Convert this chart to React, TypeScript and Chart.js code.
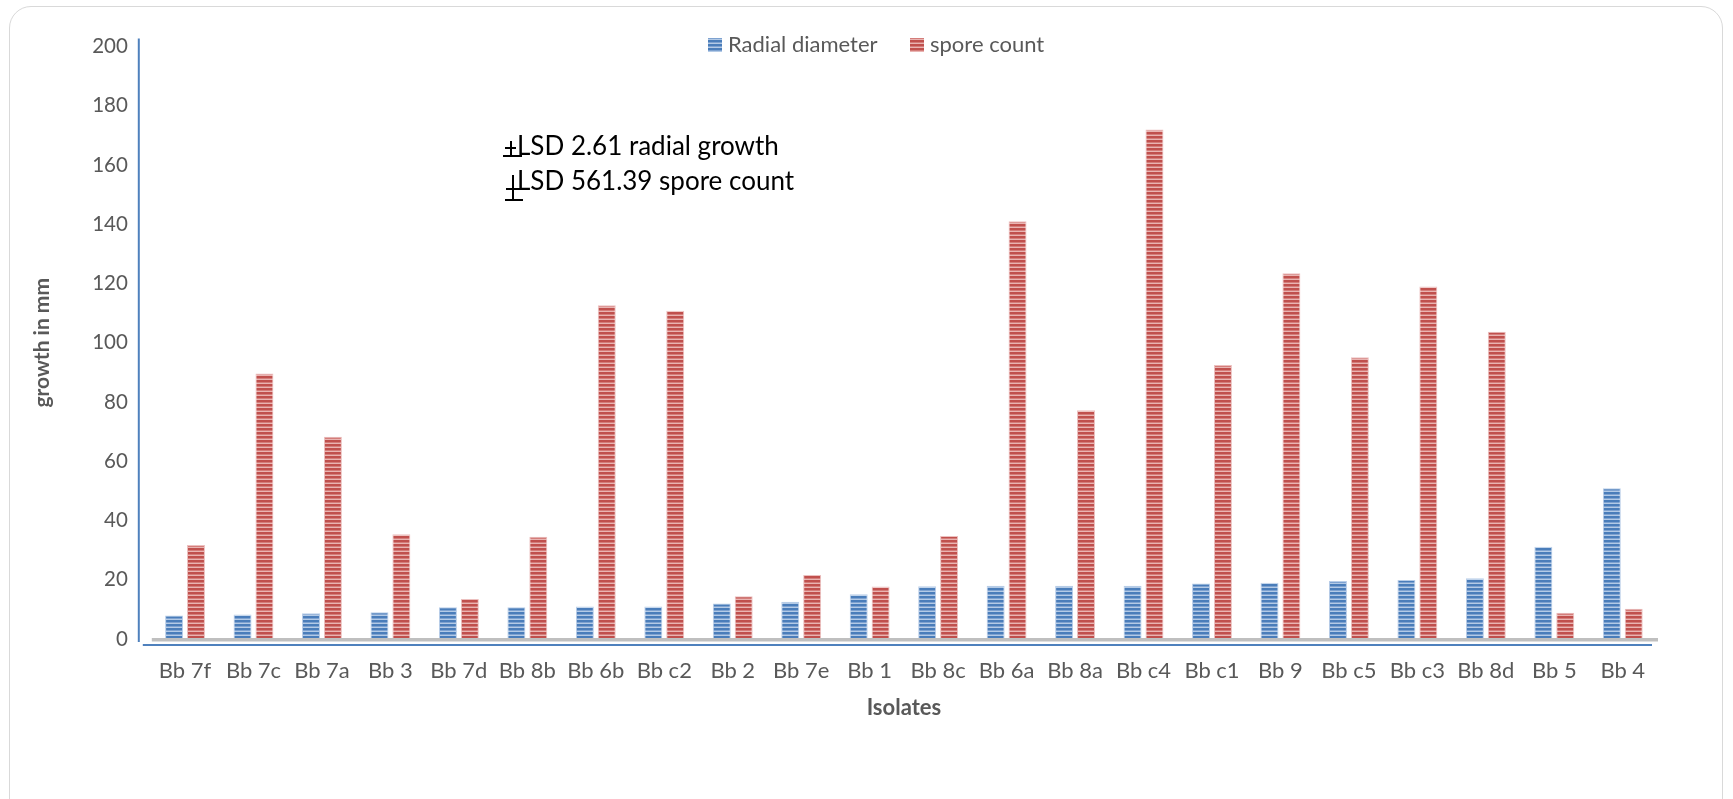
import React, { useEffect, useRef } from "react";
import { Chart, registerables } from "chart.js";
Chart.register(...registerables);

const categories = ["Bb 7f", "Bb 7c", "Bb 7a", "Bb 3", "Bb 7d", "Bb 8b", "Bb 6b", "Bb c2", "Bb 2", "Bb 7e", "Bb 1", "Bb 8c", "Bb 6a", "Bb 8a", "Bb c4", "Bb c1", "Bb 9", "Bb c5", "Bb c3", "Bb 8d", "Bb 5", "Bb 4"];
const radialDiameter = [7.9, 8.3, 8.7, 9.0, 10.7, 10.7, 11.0, 11.0, 12.0, 12.6, 15.1, 17.8, 18.0, 18.0, 18.0, 18.7, 19.0, 19.6, 19.9, 20.5, 31.1, 50.9];
const sporeCount = [31.7, 89.6, 68.3, 35.4, 13.5, 34.5, 112.7, 110.8, 14.4, 21.6, 17.7, 34.8, 141.0, 77.2, 172.0, 92.5, 123.5, 95.1, 119.0, 103.7, 8.9, 10.2];
const yTickValues = [0, 20, 40, 60, 80, 100, 120, 140, 160, 180, 200];
const seriesNames = ["Radial diameter", "spore count"];
const lsdNotes = ["LSD 2.61 radial growth", "LSD 561.39 spore count"];

const FONT = "Lato, 'Open Sans', sans-serif";
const GRAY = "#595959";

function stripes(dark: string, mid: string, light: string) {
  const c = document.createElement("canvas");
  c.width = 4;
  c.height = 4;
  const g = c.getContext("2d")!;
  g.fillStyle = dark;
  g.fillRect(0, 0, 4, 2);
  g.fillStyle = mid;
  g.fillRect(0, 2, 4, 1);
  g.fillStyle = light;
  g.fillRect(0, 3, 4, 1);
  return g.createPattern(c, "repeat")!;
}

export default function App() {
  const ref = useRef<HTMLCanvasElement | null>(null);
  useEffect(() => {
    const canvas = ref.current!;
    const blueFill = stripes("#4a7dba", "#7ea2d0", "#b3cae6");
    const redFill = stripes("#c0504d", "#d47d7a", "#e9b4b2");

    const decor = {
      id: "decor",
      afterDatasetsDraw(chart: any) {
        const { ctx, chartArea } = chart;
        const { left, right, top, bottom } = chartArea;
        ctx.save();
        // floor
        ctx.fillStyle = "#bfbfbf";
        ctx.fillRect(left + 1, bottom - 1, right - left, 3.5);
        // x axis line
        ctx.strokeStyle = "#4f81bd";
        ctx.lineWidth = 2;
        ctx.beginPath();
        ctx.moveTo(left - 8, bottom + 6);
        ctx.lineTo(right - 5, bottom + 6);
        ctx.stroke();
        // y axis line
        ctx.beginPath();
        ctx.moveTo(left - 12, top - 8);
        ctx.lineTo(left - 12, bottom + 3);
        ctx.stroke();

        // legend
        const ds = chart.data.datasets;
        ctx.font = `22px ${FONT}`;
        ctx.textBaseline = "middle";
        ctx.textAlign = "left";
        const items = [
          { x: 708, fill: blueFill, label: ds[0].label },
          { x: 910, fill: redFill, label: ds[1].label },
        ];
        for (const it of items) {
          ctx.fillStyle = it.fill;
          ctx.fillRect(it.x, 38, 14, 14);
          ctx.fillStyle = GRAY;
          ctx.fillText(it.label, it.x + 20, 45);
        }

        // LSD notes
        ctx.strokeStyle = "#000";
        ctx.lineWidth = 2;
        ctx.beginPath();
        ctx.moveTo(511, 141); ctx.lineTo(511, 156);
        ctx.moveTo(505, 148); ctx.lineTo(516, 148);
        ctx.moveTo(503, 156); ctx.lineTo(522, 156);
        ctx.moveTo(513, 175); ctx.lineTo(513, 200);
        ctx.moveTo(506, 189); ctx.lineTo(522, 189);
        ctx.moveTo(505, 200); ctx.lineTo(523, 200);
        ctx.stroke();
        ctx.fillStyle = "#000";
        ctx.font = `26px ${FONT}`;
        ctx.textBaseline = "alphabetic";
        ctx.fillText(lsdNotes[0], 517, 154.5);
        ctx.fillText(lsdNotes[1], 517, 190);
        ctx.restore();
      },
    };

    const chart = new Chart(canvas, {
      type: "bar",
      data: {
        labels: categories,
        datasets: [
          {
            label: seriesNames[0],
            data: radialDiameter,
            backgroundColor: blueFill,
            borderColor: "#b8cde8",
            borderWidth: 1,
            categoryPercentage: 0.64,
            barPercentage: 0.82,
          },
          {
            label: seriesNames[1],
            data: sporeCount,
            backgroundColor: redFill,
            borderColor: "#ecc0bf",
            borderWidth: 1,
            categoryPercentage: 0.64,
            barPercentage: 0.82,
          },
        ],
      },
      options: {
        responsive: false,
        animation: false,
        layout: { padding: { left: 0, right: 76, top: 46.5, bottom: 0 } },
        plugins: { legend: { display: false }, tooltip: { enabled: false } },
        scales: {
          x: {
            grid: { display: false, drawTicks: false },
            border: { display: false },
            ticks: { color: GRAY, font: { family: FONT, size: 22 }, padding: 19, maxRotation: 0, autoSkip: false },
            title: { display: true, text: "Isolates", color: GRAY, font: { family: FONT, size: 22, weight: "bold" }, padding: { top: 0, bottom: 78 } },
            afterFit(scale: any) { scale.height = 160; },
          },
          y: {
            min: 0,
            max: 200,
            grid: { display: false, drawTicks: false },
            border: { display: false },
            afterBuildTicks(scale: any) { scale.ticks = yTickValues.map((v) => ({ value: v })); },
            ticks: { color: GRAY, font: { family: FONT, size: 20.5 }, padding: 23 },
            title: { display: true, text: "growth in mm", color: GRAY, font: { family: FONT, size: 21, weight: "bold" }, padding: { top: 30, bottom: 0 } },
            afterFit(scale: any) { scale.width = 150.8; },
          },
        },
      },
      plugins: [decor],
    } as any);
    return () => chart.destroy();
  }, []);

  return (
    <div style={{ position: "fixed", left: 0, top: 0, width: 1733, height: 799, background: "#fff", overflow: "hidden" }}>
      <div style={{ position: "absolute", left: 9, top: 6, width: 1714, height: 820, border: "1.5px solid #d9d9d9", borderRadius: 22, boxSizing: "border-box" }} />
      <canvas ref={ref} width={1733} height={799} style={{ position: "absolute", left: 0, top: 0 }} />
    </div>
  );
}
